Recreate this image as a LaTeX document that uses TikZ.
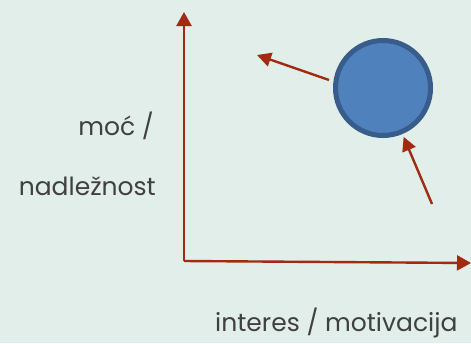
\documentclass[tikz,border=0pt]{standalone}
\usepackage{fontspec}
\setmainfont{Poppins}
\definecolor{bggreen}{RGB}{226,238,233}
\definecolor{axisred}{RGB}{160,43,16}
\definecolor{ballblue}{RGB}{79,129,189}
\definecolor{ballborder}{RGB}{56,93,138}
\definecolor{textgray}{RGB}{64,64,64}
\usetikzlibrary{arrows.meta, positioning}

\begin{document}
\begin{tikzpicture}[
    x=1pt, y=-1pt,
    axis/.style={-{Triangle[length=14pt, width=15pt]}, line width=2.4pt, color=axisred},
    arrow/.style={-{Triangle[length=14pt, width=14pt]}, line width=2.4pt, color=axisred},
    label/.style={font=\fontsize{25}{30}\selectfont, text=textgray, inner sep=0pt},
    ball/.style={circle, fill=ballblue, draw=ballborder, line width=5pt,
                 minimum size=95pt, inner sep=0pt}
]
\fill[bggreen] (0,0) rectangle (471,343);
\useasboundingbox (0,0) rectangle (471,343);

\coordinate (origin) at (184,261);
\coordinate (ytop)   at (184,12);
\coordinate (xend)   at (471,263);

\node[ball] (stake) at (383,88) {};
\coordinate (pullend) at (257,55);
\coordinate (pushtail) at (432,204);

\draw[axis] (origin) -- (ytop);
\draw[axis] (origin) -- (xend);
\draw[arrow] ([shift={(-4,-8)}]stake.west) -- (pullend);
\draw[arrow, shorten >=3pt] (pushtail) -- (stake);

\node[label, anchor=base east] (power)     at (154,135) {moć /};
\node[label, anchor=base east] (influence) at (156,195) {nadležnost};
\node[label, anchor=base west] (interest)  at (215,331) {interes / motivacija};

\end{tikzpicture}
\end{document}
